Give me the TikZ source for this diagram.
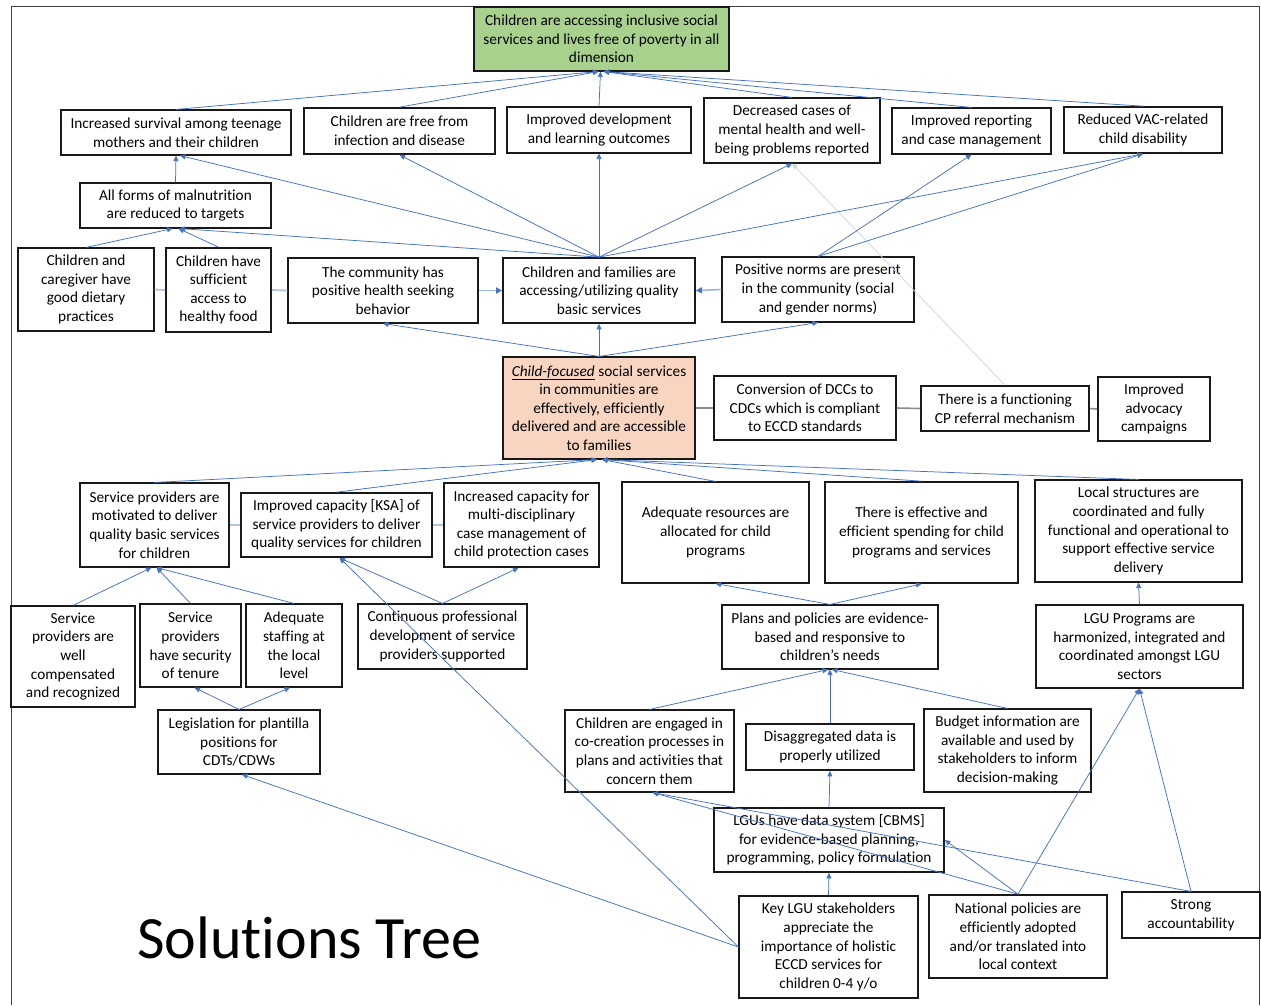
\documentclass[tikz,border=0pt]{standalone}
\usepackage{fontspec}
\setmainfont{Carlito}[Ligatures=NoCommon]
\usetikzlibrary{arrows.meta}
\definecolor{lblue}{HTML}{4472C4}
\definecolor{pblue}{HTML}{9DB5E0}
\definecolor{fblue}{HTML}{C9D6EE}
\definecolor{topgreen}{HTML}{A9D18E}
\definecolor{peach}{HTML}{F8D5C0}
\begin{document}
\begin{tikzpicture}[x=1pt,y=-1pt,
  box/.style={draw=black!90, line width=1.1pt, align=center, inner sep=0pt,
    font=\fontsize{15.3}{18.6}\selectfont},
  tbox/.style={box, line width=1.7pt},
  arr/.style={draw=lblue, line width=0.75pt, -{Triangle[length=5.5pt,width=5pt]}},
  arrl/.style={draw=pblue, line width=1.6pt, -{Triangle[length=6pt,width=6pt,color=lblue]}},
  faint/.style={draw=fblue, line width=0.7pt, -{Triangle[length=5.5pt,width=5pt]}},
  glink/.style={draw=black!45, line width=1.6pt},
  blink/.style={draw=pblue!80, line width=1.8pt}]
\useasboundingbox (0,0) rectangle (1261,1005);
\fill[white] (0,0) rectangle (1261,1005);
\draw[line width=1pt, draw=black!75] (11,1005) -- (11,6) -- (1259,6) -- (1259,1005);

% ---------- nodes ----------
\node[box, fill=topgreen, minimum width=255, minimum height=64] (T) at (601.5,39) {Children are accessing inclusive social\\services and lives free of poverty in all\\dimension};

\node[box, minimum width=230, minimum height=45] (n2) at (176,132.5) {Increased survival among teenage\\mothers and their children};
\node[tbox, minimum width=191, minimum height=46] (n3) at (399.5,131) {Children are free from\\infection and disease};
\node[box, minimum width=184, minimum height=46] (n4) at (599,130) {Improved development\\and learning outcomes};
\node[box, minimum width=176, minimum height=65] (n5) at (792,130.5) {Decreased cases of\\mental health and well-\\being problems reported};
\node[box, minimum width=159, minimum height=46] (n6) at (971.5,131) {Improved reporting\\and case management};
\node[tbox, minimum width=158, minimum height=46] (n7) at (1143,130) {Reduced VAC-related\\child disability};

\node[box, minimum width=191, minimum height=45] (n8) at (175.5,205.5) {All forms of malnutrition\\are reduced to targets};

\node[box, minimum width=136, minimum height=83] (n9) at (86,289.5) {Children and\\caregiver have\\good dietary\\practices};
\node[tbox, minimum width=105, minimum height=84] (n10) at (218.5,290) {Children have\\sufficient\\access to\\healthy food};
\node[box, minimum width=190, minimum height=65] (n11) at (383,290.5) {The community has\\positive health seeking\\behavior};
\node[tbox, minimum width=192, minimum height=65] (n12) at (599,290.5) {Children and families are\\accessing/utilizing quality\\basic services};
\node[box, minimum width=192, minimum height=65] (n13) at (818,289.5) {Positive norms are present\\in the community (social\\and gender norms)};

\node[box, fill=peach, minimum width=192, minimum height=102] (n14) at (599,408) {\underline{\textit{Child-focused}} social services\\in communities are\\effectively, efficiently\\delivered and are accessible\\to families};
\node[box, minimum width=182, minimum height=64] (n15) at (805,408) {Conversion of DCCs to\\CDCs which is compliant\\to ECCD standards};
\node[tbox, minimum width=168, minimum height=45] (n16) at (1005,408.5) {There is a functioning\\CP referral mechanism};
\node[tbox, minimum width=112, minimum height=64] (n17) at (1154,409) {Improved\\advocacy\\campaigns};

\node[box, minimum width=149, minimum height=84] (n18) at (154.5,525) {Service providers are\\motivated to deliver\\quality basic services\\for children};
\node[tbox, minimum width=191, minimum height=64] (n19) at (336.5,525) {Improved capacity [KSA] of\\service providers to deliver\\quality services for children};
\node[tbox, minimum width=155, minimum height=84] (n20) at (521.5,525) {Increased capacity for\\multi-disciplinary\\case management of\\child protection cases};
\node[box, minimum width=187, minimum height=101] (n21) at (715.5,532.5) {Adequate resources are\\allocated for child\\programs};
\node[tbox, minimum width=193, minimum height=101] (n22) at (921.5,532.5) {There is effective and\\efficient spending for child\\programs and services};
\node[box, minimum width=207, minimum height=102] (n23) at (1138.5,531) {Local structures are\\coordinated and fully\\functional and operational to\\support effective service\\delivery};

\node[box, minimum width=124, minimum height=101] (n24) at (73,656.5) {Service\\providers are\\well\\compensated\\and recognized};
\node[box, minimum width=101, minimum height=83] (n25) at (190.5,645.5) {Service\\providers\\have security\\of tenure};
\node[box, minimum width=96, minimum height=83] (n26) at (294,645.5) {Adequate\\staffing at\\the local\\level};
\node[box, minimum width=169, minimum height=65] (n27) at (442.5,636.5) {Continuous professional\\development of service\\providers supported};
\node[box, minimum width=216, minimum height=64] (n28) at (830,637) {Plans and policies are evidence-\\based and responsive to\\children’s needs};
\node[box, minimum width=207, minimum height=83] (n29) at (1139.5,646.5) {LGU Programs are\\harmonized, integrated and\\coordinated amongst LGU\\sectors};

\node[box, minimum width=162, minimum height=64] (n30) at (239,742) {Legislation for plantilla\\positions for\\CDTs/CDWs};
\node[box, minimum width=169, minimum height=82] (n31) at (649.5,751) {Children are engaged in\\co-creation processes in\\plans and activities that\\concern them};
\node[tbox, minimum width=168, minimum height=46] (n32) at (830,747) {Disaggregated data is\\properly utilized};
\node[box, minimum width=167, minimum height=83] (n33) at (1007.5,750.5) {Budget information are\\available and used by\\stakeholders to inform\\decision-making};

\node[tbox, minimum width=230, minimum height=64] (n34) at (829,840) {LGUs have data system [CBMS]\\for evidence-based planning,\\programming, policy formulation};

\node[box, minimum width=179, minimum height=102] (n35) at (828.5,947) {Key LGU stakeholders\\appreciate the\\importance of holistic\\ECCD services for\\children 0-4 y/o};
\node[tbox, minimum width=178, minimum height=83] (n36) at (1018,936.5) {National policies are\\efficiently adopted\\and/or translated into\\local context};
\node[box, minimum width=138, minimum height=46] (n37) at (1191,915) {Strong\\accountability};

\node[anchor=base west, inner sep=0pt, font=\fontsize{60}{72}\selectfont] (title) at (137,958) {Solutions Tree};

% ---------- plain links ----------
\draw[glink] (n14.east) -- (n15.west);
\draw[glink] (n15.east) -- (n16.west);
\draw[glink] (n16.east) -- (n17.west);
\draw[blink] (n9.east) -- (n10.west);
\draw[blink] (n10.east) -- (n11.west);
\draw[blink] (n18.east) -- (n19.west);
\draw[blink] (n19.east) -- (n20.west);

% ---------- arrows ----------
\draw[arr] (n2.north) -- ([xshift=-3pt]T.south);
\draw[arr] (n3.north) -- ([xshift=-3pt]T.south);
\draw[arr] (n4.north) -- ([xshift=-1pt]T.south);
\draw[arr] (n5.north) -- ([xshift=2pt]T.south);
\draw[arr] (n6.north) -- ([xshift=2pt]T.south);
\draw[arr] (n7.north) -- ([xshift=2pt]T.south);

\draw[arr] (n8.north) -- (n2.south);
\draw[arr] (n12.north) -- ([xshift=4pt]n2.south);
\draw[arr] (n9.north) -- ([xshift=-3pt]n8.south);
\draw[arr] (n10.north) -- ([xshift=3pt]n8.south);
\draw[arr] (n12.north) -- ([xshift=4pt]n8.south);
\draw[arr] (n12.north) -- (n3.south);
\draw[arr] (n12.north) -- (n4.south);
\draw[arr] (n12.north) -- (n5.south);
\draw[faint] (n16.north) -- (n5.south);
\draw[arr] (n13.north) -- (n6.south);
\draw[arr] (n12.north) -- (n7.south);
\draw[arr] (n13.north) -- (n7.south);

\draw[arrl] (n11.east) -- (n12.west);
\draw[arrl] (n13.west) -- (n12.east);
\draw[arr] (n14.north) -- (n12.south);
\draw[arr] (n14.north) -- (n11.south);
\draw[arr] (n14.north) -- (n13.south);

\draw[arr] (n18.north) -- ([xshift=-2pt]n14.south);
\draw[arr] (n19.north) -- ([xshift=-2pt]n14.south);
\draw[arr] (n21.north) -- ([xshift=3pt]n14.south);
\draw[arr] (n22.north) -- ([xshift=3pt]n14.south);
\draw[arr] (n23.north) -- ([xshift=3pt]n14.south);

\draw[arr] (n24.north) -- ([xshift=-3pt]n18.south);
\draw[arr] (n25.north) -- ([xshift=2pt]n18.south);
\draw[arr] (n26.north) -- ([xshift=2pt]n18.south);
\draw[arr] (n27.north) -- ([xshift=3pt]n19.south);
\draw[arr] (n35.west) -- ([xshift=3pt]n19.south);
\draw[arr] (n27.north) -- ([xshift=-3pt]n20.south);
\draw[arr] (n30.north) -- ([xshift=4pt]n25.south);
\draw[arr] (n30.north) -- ([xshift=-4pt]n26.south);
\draw[arr] (n35.west) -- ([xshift=3pt]n30.south);

\draw[arr] (n28.north) -- (n21.south);
\draw[arr] (n28.north) -- (n22.south);
\draw[arr] (n29.north) -- (n23.south);
\draw[arr] (n31.north) -- ([xshift=-2pt]n28.south);
\draw[arr] (n32.north) -- (n28.south);
\draw[arr] (n33.north) -- ([xshift=2pt]n28.south);
\draw[arr] (n36.north) -- (n29.south);
\draw[arr] (n37.north) -- (n29.south);
\draw[arr] (n36.north) -- ([xshift=3pt]n31.south);
\draw[arr] (n37.north) -- ([xshift=3pt]n31.south);
\draw[arr] (n34.north) -- (n32.south);
\draw[arr] (n35.north) -- (n34.south);
\draw[arr] (n36.north) -- (n34.east);
\end{tikzpicture}
\end{document}
